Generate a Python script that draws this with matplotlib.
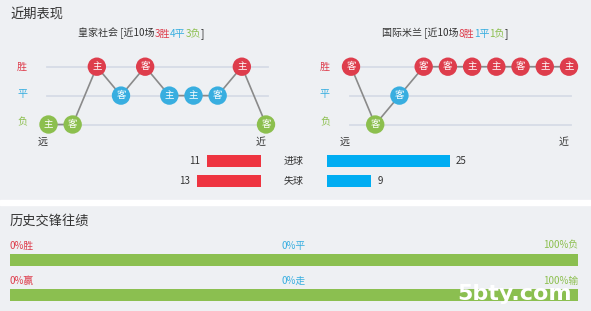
import matplotlib
import numpy as np

matplotlib.use("Agg")
import matplotlib.pyplot as plt

plt.rcParams["font.family"] = ["Noto Sans CJK SC", "DejaVu Sans"]

# ---- data ----
LEVELS = {"胜": 2, "平": 1, "负": 0}
left_team = "皇家社会"
left_results = ["负", "负", "胜", "平", "胜", "平", "平", "平", "胜", "负"]
left_venue = ["主", "客", "主", "客", "客", "主", "主", "客", "主", "客"]
left_summary = [3, 4, 3]  # 胜 平 负

right_team = "国际米兰"
right_results = ["胜", "负", "平", "胜", "胜", "胜", "胜", "胜", "胜", "胜"]
right_venue = ["客", "客", "客", "客", "客", "主", "主", "客", "主", "主"]
right_summary = [8, 1, 1]

goal_labels = ["进球", "失球"]
left_goals = [11, 13]
right_goals = [25, 9]

h2h_rows = [("胜", "平", "负"), ("赢", "走", "输")]
h2h_pcts = [[0, 0, 100], [0, 0, 100]]

# ---- style ----
W, H = 591, 311
BG = "#eef0f3"
RED = "#de3d4c"
BLUE = "#38aee0"
GREEN = "#8cbf4e"
BAR_RED = "#ee3440"
BAR_BLUE = "#00adf2"
BAR_GREEN = "#8bbf50"
DARK = "#333333"
RES_COLOR = {"胜": RED, "平": BLUE, "负": GREEN}

fig = plt.figure(figsize=(W / 100, H / 100), dpi=100)
fig.patch.set_facecolor(BG)


def px_axes(x0, y0, x1, y1):
    ax = fig.add_axes([x0 / W, 1 - y1 / H, (x1 - x0) / W, (y1 - y0) / H])
    ax.set_axis_off()
    ax.patch.set_alpha(0)
    return ax


# page overlay in pixel coords (for panel backgrounds and free text)
page = px_axes(0, 0, W, H)
page.set_xlim(0, W)
page.set_ylim(H, 0)
page.axhspan(200, 205, color="white", zorder=0)


def ptext(x, y, s, **kw):
    kw.setdefault("color", DARK)
    kw.setdefault("va", "center")
    return page.text(x, y, s, **kw)


ptext(10, 15, "近期表现", fontsize=9.5)
ptext(10, 221, "历史交锋往绩", fontsize=9.5)


def colored_title(x, y, team, summary):
    parts = [
        (f"{team} [近10场", DARK),
        (f"{summary[0]}胜", RED),
        (f"{summary[1]}平", BLUE),
        (f"{summary[2]}负", GREEN),
        ("]", DARK),
    ]
    t = page.text(x, y, parts[0][0], color=parts[0][1], fontsize=7.2, va="baseline")
    for s, c in parts[1:]:
        t = page.annotate(s, xy=(1, 0), xycoords=t, color=c, fontsize=7.2,
                          va="bottom", ha="left")


colored_title(78, 36, left_team, left_summary)
colored_title(382, 36, right_team, right_summary)


def form_chart(x_first, x_last, label_x, results, venue):
    # axes spans exact centres of first/last circle and the win/loss rows
    ax = px_axes(x_first, 66.7, x_last, 124.5)
    ax.set_xlim(0, 9)
    ax.set_ylim(0, 2)
    xs = np.arange(len(results))
    ys = [LEVELS[r] for r in results]
    for lv in (0, 1, 2):
        ax.plot([-0.05, 9.1], [lv, lv], color="#d6dce6", lw=1.3, zorder=1,
                clip_on=False)
    ax.plot(xs, ys, color="#8a8a8a", lw=1.2, zorder=2, clip_on=False)
    ax.scatter(xs, ys, s=175, c=[RES_COLOR[r] for r in results],
               edgecolors="none", zorder=3, clip_on=False)
    for x, y, v in zip(xs, ys, venue):
        ax.text(x, y, v, color="white", fontsize=6.8, ha="center",
                va="center", zorder=4, clip_on=False)
    for name, yy in (("胜", 66.7), ("平", 94), ("负", 122)):
        ptext(label_x, yy, name, color=RES_COLOR[name], fontsize=7.2,
              ha="center")
    ptext(x_first - 6, 142, "远", fontsize=7.2, ha="center")
    ptext(x_last - 5, 142, "近", fontsize=7.2, ha="center")


form_chart(48.5, 266, 22, left_results, left_venue)
form_chart(351, 569, 325, right_results, right_venue)

# goals for / against bars
PX_PER_GOAL = 4.92
gmax = 30
axl = px_axes(261 - PX_PER_GOAL * gmax, 151.5, 261, 190.5)
axl.set_xlim(gmax, 0)
axl.set_ylim(1.5, -0.5)
axl.barh(range(2), left_goals, height=0.64, color=BAR_RED)
for i, g in enumerate(left_goals):
    axl.annotate(str(g), xy=(g, i), xytext=(-7, 0), textcoords="offset pixels",
                 ha="right", va="center", fontsize=7, color=DARK)

axr = px_axes(327, 151.5, 327 + PX_PER_GOAL * gmax, 190.5)
axr.set_xlim(0, gmax)
axr.set_ylim(1.5, -0.5)
axr.barh(range(2), right_goals, height=0.64, color=BAR_BLUE)
for i, g in enumerate(right_goals):
    axr.annotate(str(g), xy=(g, i), xytext=(6, 0), textcoords="offset pixels",
                 ha="left", va="center", fontsize=7, color=DARK)

for i, lab in enumerate(goal_labels):
    ptext(294, 161.3 + 19.4 * i, lab, fontsize=7.2, ha="center")

# head to head bars
row_y = [260, 295.3]
for (wl, dl, ll), (wp, dp, lp), yc in zip(h2h_rows, h2h_pcts, row_y):
    ax = px_axes(10, yc - 6, 578, yc + 6)
    ax.set_xlim(0, 100)
    ax.set_ylim(0, 1)
    ax.barh(0.5, wp, height=1, left=0, color=BAR_RED)
    ax.barh(0.5, dp, height=1, left=wp, color=BAR_BLUE)
    ax.barh(0.5, lp, height=1, left=wp + dp, color=BAR_GREEN)
    ptext(10, yc - 14.5, f"{wp}%{wl}", color=RED, fontsize=7)
    ptext(294, yc - 14.5, f"{dp}%{dl}", color=BLUE, fontsize=7, ha="center")
    ptext(578, yc - 14.5, f"{lp}%{ll}", color=GREEN, fontsize=7, ha="right")

# watermark on top of everything
fig.text(515 / W, 1 - 294 / H, "5bty.com", color="white", fontsize=16,
         fontweight="bold", family="DejaVu Sans", ha="center", va="center",
         zorder=10)

fig.savefig("out.png", dpi=100, facecolor=BG)
